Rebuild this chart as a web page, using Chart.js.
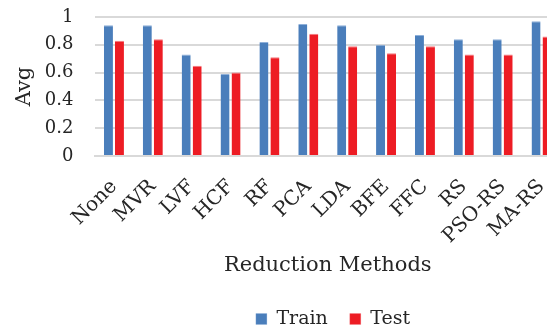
<!DOCTYPE html>
<html>
<head>
<meta charset="utf-8">
<script src="https://cdn.jsdelivr.net/npm/chart.js@4.4.1/dist/chart.umd.min.js"></script>
<style>
  html, body { margin: 0; padding: 0; background: #ffffff; overflow: hidden; }
  #wrap { width: 666px; height: 331px; position: relative; }
</style>
</head>
<body>
<div id="wrap"><canvas id="chart"></canvas></div>
<script>
// Reduction methods compared on average train / test score
const methods = ['None', 'MVR', 'LVF', 'HCF', 'RF', 'PCA', 'LDA', 'BFE', 'FFC', 'RS', 'PSO-RS', 'MA-RS'];
const trainAvg = [0.94, 0.94, 0.73, 0.59, 0.82, 0.95, 0.94, 0.80, 0.87, 0.84, 0.84, 0.97];
const testAvg  = [0.83, 0.84, 0.65, 0.60, 0.71, 0.88, 0.79, 0.74, 0.79, 0.73, 0.73, 0.86];
const yTicks = [0, 0.2, 0.4, 0.6, 0.8, 1];

const serif = "'DejaVu Serif', 'Liberation Serif', serif";
const ink = '#262626';

// Centre the legend across the whole canvas and put its row at a fixed height
const LEGEND_ROW_Y = 319;
const legendPlacement = {
  id: 'legendPlacement',
  afterLayout(chart) {
    const lg = chart.legend;
    if (!lg) return;
    const pad = lg.options.labels.padding;
    const itemH = Math.max(lg.options.labels.boxHeight, lg.options.labels.font.size);
    const h = lg.height;
    lg.left = 0;
    lg.right = chart.width;
    lg.top = LEGEND_ROW_Y - pad - itemH / 2;
    lg.bottom = lg.top + h;
    lg.adjustHitBoxes && lg.adjustHitBoxes();
  }
};

new Chart(document.getElementById('chart'), {
  type: 'bar',
  data: {
    labels: methods,
    datasets: [
      {
        label: 'Train',
        data: trainAvg,
        backgroundColor: '#4a7ebb',
        borderColor: '#8fb0d9',
        borderWidth: { top: 1, left: 0, right: 0, bottom: 0 },
        borderSkipped: 'bottom'
      },
      {
        label: 'Test',
        data: testAvg,
        backgroundColor: '#ed1c24',
        borderColor: '#f47a7f',
        borderWidth: { top: 1, left: 0, right: 0, bottom: 0 },
        borderSkipped: 'bottom'
      }
    ]
  },
  plugins: [legendPlacement],
  options: {
    responsive: true,
    maintainAspectRatio: false,
    animation: false,
    datasets: {
      bar: { categoryPercentage: 0.566, barPercentage: 0.82 }
    },
    layout: { padding: { top: 17, right: 105, left: 0, bottom: -17 } },
    scales: {
      x: {
        grid: { display: false, drawTicks: false },
        border: { display: true, color: '#d9d9d9', width: 2 },
        afterFit: (axis) => { axis.height = 141; },
        ticks: {
          color: ink,
          font: { family: serif, size: 20 },
          maxRotation: 45,
          minRotation: 45,
          padding: 19,
          autoSkip: false
        },
        title: {
          display: true,
          text: 'Reduction Methods',
          color: ink,
          font: { family: serif, size: 21 },
          padding: { top: 8, bottom: 19 }
        }
      },
      y: {
        min: 0,
        max: 1,
        afterBuildTicks: (axis) => { axis.ticks = yTicks.map(v => ({ value: v })); },
        afterFit: (axis) => { axis.width = 94.5; },
        grid: {
          color: '#d9d9d9',
          lineWidth: 2,
          drawTicks: true,
          tickLength: 21,
          tickColor: 'rgba(0,0,0,0)'
        },
        border: { display: false },
        ticks: {
          color: ink,
          font: { family: serif, size: 18 },
          padding: 0,
          callback: (v) => String(Math.round(v * 10) / 10)
        },
        title: {
          display: true,
          text: 'Avg',
          color: ink,
          font: { family: serif, size: 21 },
          padding: { top: 12, bottom: 6 }
        }
      }
    },
    plugins: {
      legend: {
        position: 'bottom',
        labels: {
          color: ink,
          font: { family: serif, size: 19 },
          boxWidth: 11,
          boxHeight: 11,
          padding: 22,
          useBorderRadius: false
        }
      },
      tooltip: { enabled: false }
    }
  }
});
</script>
</body>
</html>
